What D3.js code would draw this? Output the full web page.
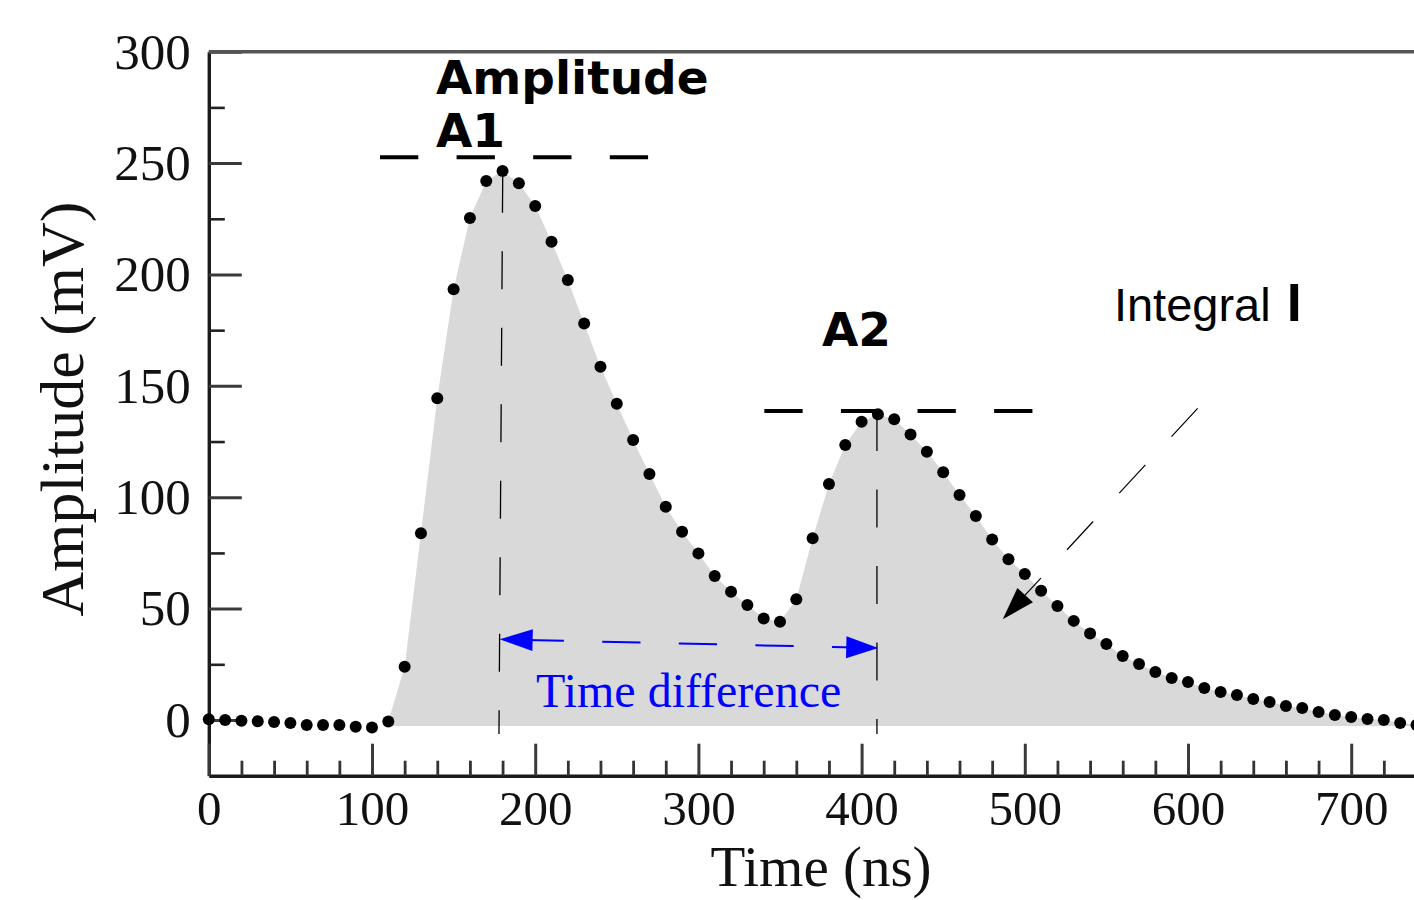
<!DOCTYPE html>
<html><head><meta charset="utf-8">
<script src="https://cdn.jsdelivr.net/npm/d3@7"></script>
<style>
html,body{margin:0;padding:0;background:#fff;}
svg{display:block;}
</style></head><body>
<svg id="chart" width="1414" height="900"></svg>
<script>
// ---- data ----
const timesNs = [0,10,20,30,40,50,60,70,80,90,100,110,120,130,140,150,160,170,180,190,
  200,210,220,230,240,250,260,270,280,290,300,310,320,330,340,350,360,370,380,390,
  400,410,420,430,440,450,460,470,480,490,500,510,520,530,540,550,560,570,580,590,
  600,610,620,630,640,650,660,670,680,690,700,710,720,730,740];
const amplitudesMv = [0.3,0,-0.3,-0.6,-0.9,-1.3,-2.2,-2.2,-2.2,-3.0,-3.4,-0.7,23.9,83.8,144.4,193.4,225.3,242,246.4,240.9,
  230.7,214.7,197.5,178,158.6,142,125.7,110.4,95.7,84.5,74.8,64.6,57.6,51.6,45.6,44.1,54.2,81.6,105.9,123.4,
  133.9,137.2,135,128.2,120.4,111.2,101,91.6,81,72.2,65.5,58,51.2,44.5,38.8,34.1,28.7,25.1,21.5,18.9,
  17.1,14.4,12.6,11.2,9.4,8.1,6.3,5.4,3.6,2.2,1.3,0.4,0,-1.3,-2.2];
const fillStartNs = 110;
const fillBaselineMv = -2.7;

const xMajorTicks = [0,100,200,300,400,500,600,700];
const xMinorTicks = [20,40,60,80,120,140,160,180,220,240,260,280,320,340,360,380,420,440,460,480,
  520,540,560,580,620,640,660,680,720,740];
const yMajorTicks = [0,50,100,150,200,250,300];
const yMinorTicks = [25,75,125,175,225,275];

const xAxisTitle = "Time (ns)";
const yAxisTitle = "Amplitude (mV)";
const peak1Lines = ["Amplitude","A1"];
const peak2Label = "A2";
const integralLabel = "Integral ";
const integralSymbol = "I";
const timeDiffLabel = "Time difference";

// annotation anchors (data units: ns, mV)
const a1Level = {x1:104.9, x2:269.3, y:252.6};
const a2Level = {x1:340.4, x2:504.8, y:138.7};
const peak1Drop = {x1:180.1, y1:244.8, x2:177.8, y2:-6.3};
const peak2Drop = {x1:409.4, y1:137.8, x2:409.4, y2:-6.3};
const timeDiffArrow = {x1:178.2, y1:36.2, x2:410.2, y2:32.3};
const integralArrow = {x1:605.9, y1:139.9, x2:486.5, y2:45.2};

// ---- scales ----
const svg = d3.select('#chart');
const x = d3.scaleLinear().domain([0,800]).range([208.8, 208.8 + 1.632*800]);
const y = d3.scaleLinear().domain([-25,300]).range([775.7, 51.7]);

const points = timesNs.map((t,i)=>({t, v:amplitudesMv[i]}));

// ---- filled area ----
const area = d3.area()
  .x(d=>x(d.t)).y0(y(fillBaselineMv)).y1(d=>y(d.v))
  .curve(d3.curveLinear);
svg.append('path')
  .datum(points.filter(d=>d.t>=fillStartNs))
  .attr('d', area)
  .attr('fill','#d9d9d9');

// ---- annotation lines ----
const ann = svg.append('g');
function hline(o){
  ann.append('line').attr('x1',x(o.x1)).attr('x2',x(o.x2)).attr('y1',y(o.y)).attr('y2',y(o.y))
    .attr('stroke','#000').attr('stroke-width',4).attr('stroke-dasharray','38.3,38.3');
}
hline(a1Level); hline(a2Level);
function vline(o){
  ann.append('line').attr('x1',x(o.x1)).attr('x2',x(o.x2)).attr('y1',y(o.y1)).attr('y2',y(o.y2))
    .attr('stroke','#000').attr('stroke-width',1.3).attr('stroke-dasharray','38,38.5');
}
vline(peak1Drop); vline(peak2Drop);

function arrowHead(g, tipX, tipY, fromX, fromY, len, half, color){
  const dx = tipX-fromX, dy = tipY-fromY, L = Math.hypot(dx,dy);
  const ux = dx/L, uy = dy/L, px = -uy, py = ux;
  const bx = tipX-ux*len, by = tipY-uy*len;
  g.append('polygon')
    .attr('points', [[tipX,tipY],[bx+px*half,by+py*half],[bx-px*half,by-py*half]].map(p=>p.join(',')).join(' '))
    .attr('fill',color);
}

// time difference arrow (blue)
{
  const X1=x(timeDiffArrow.x1), Y1=y(timeDiffArrow.y1), X2=x(timeDiffArrow.x2), Y2=y(timeDiffArrow.y2);
  ann.append('line').attr('x1',X1).attr('y1',Y1).attr('x2',X2).attr('y2',Y2)
    .attr('stroke','#0000ff').attr('stroke-width',2)
    .attr('stroke-dasharray','38.3,38.3').attr('stroke-dashoffset',50.6);
  arrowHead(ann, X1, Y1, X2, Y2, 33, 11, '#0000ff');
  arrowHead(ann, X2, Y2, X1, Y1, 32, 11, '#0000ff');
}
// integral arrow (black)
{
  const X1=x(integralArrow.x1), Y1=y(integralArrow.y1), X2=x(integralArrow.x2), Y2=y(integralArrow.y2);
  ann.append('line').attr('x1',X1).attr('y1',Y1).attr('x2',X2).attr('y2',Y2)
    .attr('stroke','#000').attr('stroke-width',1.2).attr('stroke-dasharray','38.5,38.5');
  arrowHead(ann, X2, Y2, X1, Y1, 33, 10.6, '#000');
}

// ---- axes ----
const serif = '"Liberation Serif","Times New Roman",serif';
const yAxisG = svg.append('g').attr('transform',`translate(${x(0)},0)`)
  .call(d3.axisLeft(y).tickValues(yMajorTicks).tickSize(-33).tickSizeOuter(0).tickPadding(18).tickFormat(d3.format('d')));
yAxisG.select('.domain').attr('stroke','#1a1a1a').attr('stroke-width',3.4);
yAxisG.selectAll('.tick line').attr('stroke','#3a3a3a').attr('stroke-width',3);
yAxisG.selectAll('.tick text').attr('font-family',serif).attr('font-size',51).attr('fill','#111');

const yMinorG = svg.append('g').attr('transform',`translate(${x(0)},0)`)
  .call(d3.axisLeft(y).tickValues(yMinorTicks).tickSize(-16).tickFormat(''));
yMinorG.select('.domain').remove();
yMinorG.selectAll('.tick line').attr('stroke','#222').attr('stroke-width',2.6);

const xAxisG = svg.append('g').attr('transform',`translate(0,${y(-25)})`)
  .call(d3.axisBottom(x).tickValues(xMajorTicks).tickSize(-32).tickSizeOuter(0).tickPadding(15).tickFormat(d3.format('d')));
xAxisG.select('.domain').attr('stroke','#1a1a1a').attr('stroke-width',3.4);
xAxisG.selectAll('.tick line').attr('stroke','#3a3a3a').attr('stroke-width',3);
xAxisG.selectAll('.tick text').attr('font-family',serif).attr('font-size',49).attr('fill','#111');

const xMinorG = svg.append('g').attr('transform',`translate(0,${y(-25)})`)
  .call(d3.axisBottom(x).tickValues(xMinorTicks).tickSize(-15).tickFormat(''));
xMinorG.select('.domain').remove();
xMinorG.selectAll('.tick line').attr('stroke','#333').attr('stroke-width',2.8);

// top frame
svg.append('line').attr('x1',x(0)).attr('x2',x(800)).attr('y1',y(300)).attr('y2',y(300))
  .attr('stroke','#555').attr('stroke-width',3.6);

// axis titles
svg.append('text').attr('x',821).attr('y',886).attr('text-anchor','middle')
  .attr('font-family',serif).attr('font-size',57).attr('fill','#111').text(xAxisTitle);
svg.append('text').attr('transform','translate(83,409) rotate(-90)').attr('text-anchor','middle')
  .attr('font-family',serif).attr('font-size',62).attr('fill','#111').text(yAxisTitle);

// ---- dots ----
svg.append('g').selectAll('circle').data(points).join('circle')
  .attr('cx',d=>x(d.t)).attr('cy',d=>y(d.v)).attr('r',6).attr('fill','#000');

// ---- labels ----
const boldSans = '"DejaVu Sans",sans-serif';
svg.append('text').attr('x',x(139.2)).attr('y',y(281)).attr('font-family',boldSans)
  .attr('font-weight','bold').attr('font-size',47).attr('fill','#000').text(peak1Lines[0]);
svg.append('text').attr('x',x(139.2)).attr('y',y(257.2)).attr('font-family',boldSans)
  .attr('font-weight','bold').attr('font-size',47).attr('fill','#000').text(peak1Lines[1]);
svg.append('text').attr('x',x(375.7)).attr('y',y(167.9)).attr('font-family',boldSans)
  .attr('font-weight','bold').attr('font-size',47).attr('fill','#000').text(peak2Label);

const integ = svg.append('text').attr('x',x(554.6)).attr('y',y(178.9))
  .attr('font-family','"Liberation Sans",Arial,sans-serif').attr('font-size',47).attr('fill','#000');
integ.append('tspan').text(integralLabel);
integ.append('tspan').attr('dx',3).attr('font-weight','bold').attr('font-size',54).text(integralSymbol);

svg.append('text').attr('x',x(200.5)).attr('y',y(5.7)).attr('font-family',serif)
  .attr('font-size',48).attr('fill','#0000ff').text(timeDiffLabel);
</script>
</body></html>
